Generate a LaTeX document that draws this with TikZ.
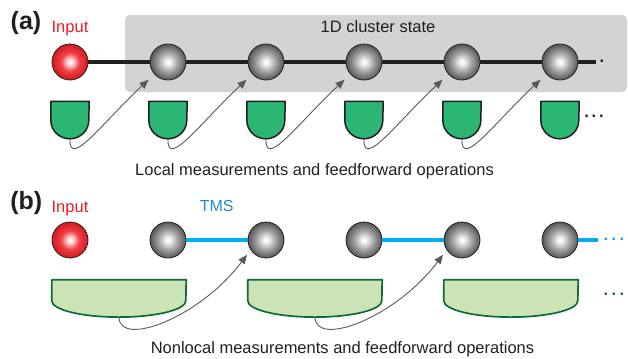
\documentclass[tikz,border=0pt]{standalone}
\usepackage{fontspec}
\setmainfont{Liberation Sans}
\usepackage{tikz}
\usetikzlibrary{arrows.meta}

\definecolor{ink}{HTML}{231F20}
\definecolor{inputred}{HTML}{ED1C24}
\definecolor{tmsblue}{HTML}{00AEEF}
\definecolor{tmstext}{HTML}{2389D0}
\definecolor{clusterbg}{HTML}{D1D3D4}
\definecolor{detgreen}{HTML}{2BB673}
\definecolor{detlight}{HTML}{CCE4B5}
\definecolor{detdark}{HTML}{0E6B35}
\definecolor{arrgray}{HTML}{595959}

% ombrages des modes
\pgfdeclareradialshading{gball}{\pgfpoint{0bp}{0bp}}{color(0bp)=(white); color(3bp)=(white!96!black); color(14bp)=(black!38); color(25bp)=(black!66); color(50bp)=(black!66)}
\pgfdeclareradialshading{rball}{\pgfpoint{0bp}{0bp}}{color(0bp)=(white); color(3bp)=(white!90!inputred); color(13bp)=(inputred!85!white); color(25bp)=(inputred!90!black); color(50bp)=(inputred!90!black)}

\begin{document}
\begin{tikzpicture}[x=1bp, y=-1bp,
  txt/.style={font=\fontsize{16.5bp}{19bp}\selectfont, inner sep=0pt, anchor=base, text=ink},
  lbl/.style={font=\fontsize{25bp}{28bp}\selectfont\bfseries, inner sep=0pt, anchor=base, text=ink},
  qball/.style={circle, minimum size=36bp, inner sep=0pt, draw=ink, line width=0.8bp, shade, shading=gball},
  inball/.style={qball, shading=rball},
  detbox/.style={rectangle, inner sep=0pt, draw=none},
  detA/.style={fill=detgreen, draw=ink, line width=1.5bp, line join=round},
  detB/.style={fill=detlight, draw=detdark, line width=1.7bp, line join=round},
  ffarr/.style={draw=arrgray, line width=0.9bp, -{Triangle[length=9bp, width=7.5bp]}},
  chain/.style={draw=ink, line width=4.6bp},
  tms/.style={draw=tmsblue, line width=4.2bp}]
  \useasboundingbox (0,0) rectangle (628,358);

  % (a) etat cluster 1D
  \fill[clusterbg, rounded corners=5bp] (125,15) rectangle (627,92);
  \node[txt] (cl) at (378,32.5) {1D cluster state};
  \node[lbl] (la) at (26,29.8) {(a)};
  \node[txt, text=inputred] (ina) at (70,32.3) {Input};
  % Modes
  \node[inball] (a0) at (70,62) {};
  \foreach \i in {1,...,5} \node[qball] (a\i) at (70+98*\i,62) {};
  \foreach \i [count=\j] in {0,...,4} \draw[chain] (a\i) -- (a\j);
  \coordinate (aend) at (596,62);
  \draw[chain] (a5) -- (aend);
  \node[txt, font=\fontsize{16.5bp}{19bp}\selectfont\bfseries] (adot) at (602,62) {.};
  % Detecteurs locaux
  \foreach \i in {0,...,5}{
    \node[detbox, minimum width=38bp, minimum height=37.5bp] (ma\i) at (70+98*\i,120.25) {};
    \draw[detA] (ma\i.north west) -- ++(0,19)
      arc[start angle=180, end angle=360, x radius=19bp, y radius=18.5bp]
      -- (ma\i.north east) -- cycle;
  }
  \node[txt, font=\fontsize{16.5bp}{19bp}\selectfont\bfseries] (dotsa) at (594,117.7) {.\,.\,.};
  % Feedforward
  \foreach \i [count=\j] in {0,...,4}
    \draw[ffarr, shorten >=8bp] (ma\i.south)
      to[out=-92, in=223, out distance=30bp, in distance=70bp] (a\j.222);
  \node[txt] (capa) at (314.5,175.1) {Local measurements and feedforward operations};

  % (b) etats TMS
  \node[lbl] (lb) at (26.3,209.8) {(b)};
  \node[txt, text=inputred] (inb) at (70,212.3) {Input};
  \node[txt, text=tmstext, font=\fontsize{16bp}{19bp}\selectfont] (tl) at (216.7,211.5) {TMS};
  \node[inball] (b0) at (70,240) {};
  \foreach \i in {1,...,5} \node[qball] (b\i) at (70+98*\i,240) {};
  \draw[tms] (b1) -- (b2);
  \draw[tms] (b3) -- (b4);
  \coordinate (bend) at (598,240);
  \draw[tms] (b5) -- (bend);
  \node[txt, text=tmsblue, font=\fontsize{16.5bp}{19bp}\selectfont\bfseries] (dotsb) at (614,240.3) {.\hspace{3.4bp}.\hspace{3.4bp}.};
  % Detecteurs non locaux
  \foreach \i in {1,2,3}{
    \node[detbox, minimum width=134bp, minimum height=37.3bp] (mb\i) at (-77+196*\i,298.65) {};
    \draw[detB] (mb\i.north west) -- ++(0,21)
      arc[start angle=180, end angle=360, x radius=67bp, y radius=16.3bp]
      -- (mb\i.north east) -- cycle;
  }
  \node[txt, text=detdark, font=\fontsize{16.5bp}{19bp}\selectfont\bfseries] (dotsc) at (614,295.3) {.\hspace{3.4bp}.\hspace{3.4bp}.};
  % Feedforward
  \draw[ffarr, shorten >=6bp] (mb1.south)
    to[out=-88, in=233, out distance=30bp, in distance=85bp] (b2.213);
  \draw[ffarr, shorten >=6bp] (mb2.south)
    to[out=-88, in=233, out distance=30bp, in distance=85bp] (b4.213);
  \node[txt] (capb) at (342.5,353.5) {Nonlocal measurements and feedforward operations};
\end{tikzpicture}
\end{document}
